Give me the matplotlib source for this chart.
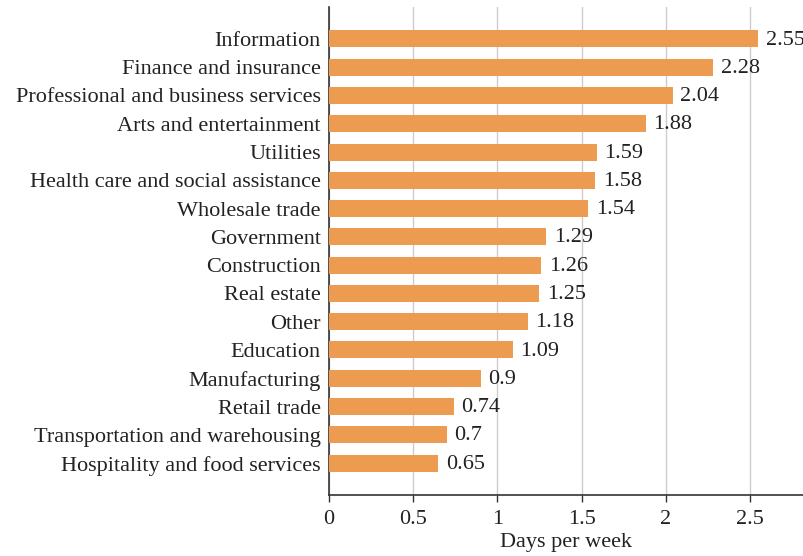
import matplotlib
matplotlib.use("Agg")
import matplotlib.pyplot as plt

categories = ["Information", "Finance and insurance", "Professional and business services",
              "Arts and entertainment", "Utilities", "Health care and social assistance",
              "Wholesale trade", "Government", "Construction", "Real estate", "Other",
              "Education", "Manufacturing", "Retail trade", "Transportation and warehousing",
              "Hospitality and food services"]
values = [2.55, 2.28, 2.04, 1.88, 1.59, 1.58, 1.54, 1.29, 1.26, 1.25, 1.18, 1.09, 0.9, 0.74, 0.7, 0.65]
value_labels = ["2.55", "2.28", "2.04", "1.88", "1.59", "1.58", "1.54", "1.29", "1.26", "1.25",
                "1.18", "1.09", "0.9", "0.74", "0.7", "0.65"]
xticks = [0, 0.5, 1, 1.5, 2, 2.5]
xtick_labels = ["0", "0.5", "1", "1.5", "2", "2.5"]

plt.rcParams['font.family'] = ['Liberation Serif', 'DejaVu Serif']
FS = 16
fig = plt.figure(figsize=(8.04, 5.56), dpi=100)
ax = fig.add_axes([329/804, 1 - 495/556, (804 - 329)/804, (495 - 7)/556])

n = len(categories)
ypos = list(range(n))
ax.barh(ypos, values, height=0.6, color="#EC9B50", zorder=3)
for y, v, lab in zip(ypos, values, value_labels):
    ax.text(v + 0.045, y + 0.04, lab, va="center", ha="left", fontsize=FS, color="#222222",
            zorder=4, clip_on=False)

ax.set_yticks(ypos)
ax.set_yticklabels(categories, fontsize=FS, color="#222222")
ax.set_ylim(n - 1 + 1.13, -1.13)
ax.set_xlim(0, (804 - 329) / 168.4)
ax.set_xticks(xticks)
ax.set_xticklabels(xtick_labels, fontsize=FS, color="#222222")
ax.set_xlabel("Days per week", fontsize=FS, color="#222222", labelpad=3)

ax.tick_params(axis="y", length=0, pad=6)
ax.tick_params(axis="x", length=5, width=1, color="#333333", pad=6)
ax.grid(axis="x", color="#cccccc", linewidth=1, zorder=0)
for s in ["top", "right"]:
    ax.spines[s].set_visible(False)
for s in ["left", "bottom"]:
    ax.spines[s].set_color("#333333")
    ax.spines[s].set_linewidth(1.2)

fig.savefig("out.png", dpi=100)
